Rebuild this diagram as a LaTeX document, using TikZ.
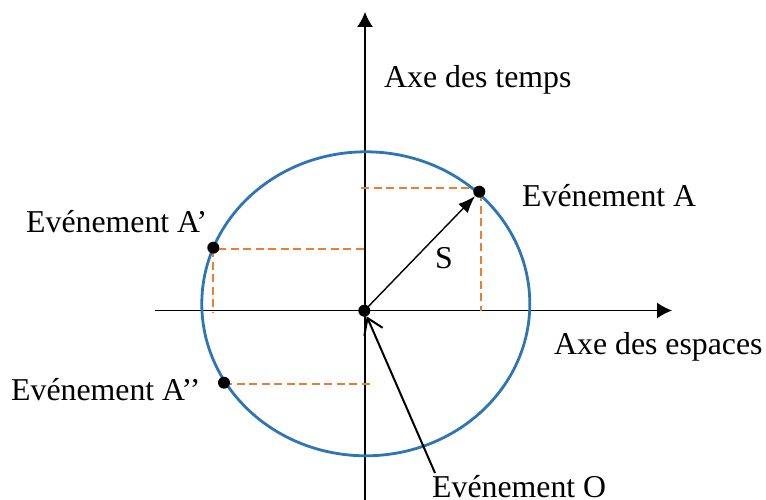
\documentclass[tikz,border=0pt]{standalone}
\usepackage{fontspec}
\setmainfont{Liberation Serif}
\usetikzlibrary{arrows.meta}
\definecolor{circblue}{HTML}{2E75B6}
\definecolor{dashorange}{HTML}{ED7D31}
\tikzset{
  lbl/.style={anchor=base west, inner sep=0pt, font=\fontsize{31.8}{38}\selectfont},
  dot/.style={circle, fill=black, inner sep=0pt, minimum size=12pt},
  axisline/.style={line width=1.4pt, -{Latex[length=15pt,width=16pt]}},
  proj/.style={dashorange, line width=1.8pt, dash pattern=on 8pt off 4.5pt},
  sarrow/.style={line width=1.4pt, -{Latex[length=17pt,width=13pt]}},
  oarrow/.style={line width=2pt, -{Straight Barb[length=15pt,width=20pt,line width=2pt]}},
  circline/.style={circblue, line width=2.8pt},
}
\begin{document}
\begin{tikzpicture}[x=1pt,y=-1pt]
\useasboundingbox (0,0) rectangle (766,500);
% axes
\coordinate (ybot) at (365,500);
\coordinate (ytop) at (365,12);
\coordinate (xleft) at (155,310.5);
\coordinate (xright) at (672,310.5);
\draw[axisline] (ybot) -- (ytop);
\draw[axisline] (xleft) -- (xright);
% circle
\coordinate (ctr) at (365.8,303.8);
\draw[circline] (ctr) ellipse [x radius=164, y radius=152];
% projection coordinates
\coordinate (ay) at (361,188.3);
\coordinate (ax) at (481,310.5);
\coordinate (a1y) at (363.5,249.3);
\coordinate (a1x) at (213.3,312);
\coordinate (a2y) at (369.5,384.3);
% dashed projections
\draw[proj] (ay) -- (481,188.3) -- (ax);
\draw[proj] (a1y) -- (213.3,249.3) -- (a1x);
\draw[proj] (224,384.3) -- (a2y);
% event dots
\node[dot] (A) at (479.3,191.7) {};
\node[dot] (A1) at (213.3,247.7) {};
\node[dot] (A2) at (224,382.7) {};
\node[dot] (O) at (364.3,310.7) {};
% arrows
\draw[sarrow] (O.center) -- (A);
\coordinate (Otail) at (435,473);
\draw[oarrow] (Otail) -- (O);
% labels
\node[lbl] (tlab) at (384,88) {Axe des temps};
\node[lbl] (xlab) at (554,354) {Axe des espaces};
\node[lbl] (Alab) at (522,207) {Evénement A};
\node[lbl] (A1lab) at (26,232) {Evénement A’};
\node[lbl] (A2lab) at (11,400) {Evénement A’’};
\node[lbl] (Olab) at (432,497) {Evénement O};
\node[lbl] (Slab) at (435,268) {S};
\end{tikzpicture}
\end{document}
